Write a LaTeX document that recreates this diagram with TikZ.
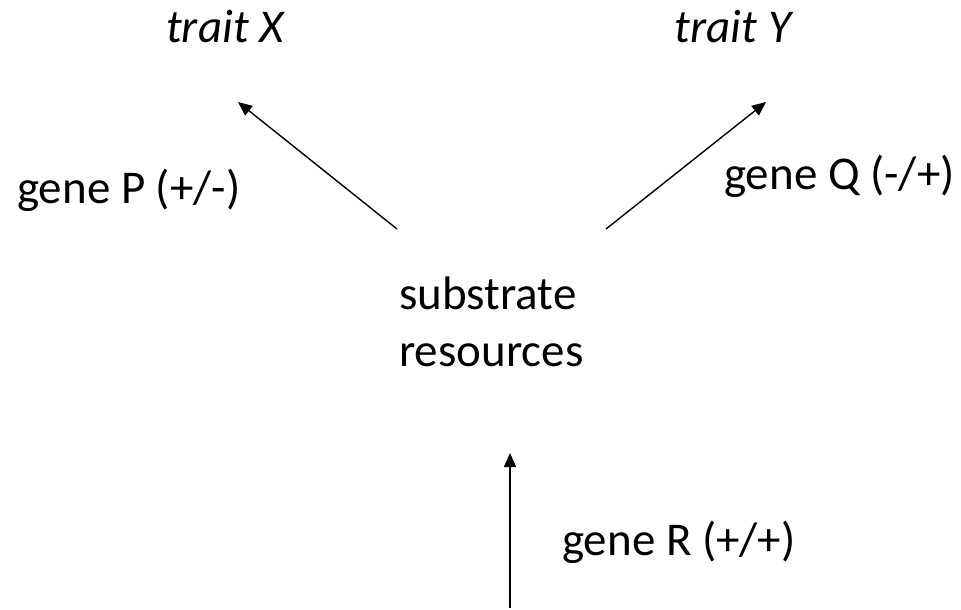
\documentclass[tikz,border=0pt]{standalone}
\usepackage{fontspec}
\setmainfont{Carlito}
\usetikzlibrary{arrows.meta}
\begin{document}
\begin{tikzpicture}[x=1pt,y=-1pt,
  lbl/.style={inner sep=0pt,font=\fontsize{47}{57}\selectfont},
  arr/.style={line width=1.4pt,-{Triangle[length=14pt,width=12pt]}}]
\useasboundingbox[fill=white] (0,0) rectangle (961,610);
\node[lbl,anchor=base,font=\fontsize{47}{57}\selectfont\itshape] (tx) at (225,43) {trait X};
\node[lbl,anchor=base,font=\fontsize{47}{57}\selectfont\itshape] (ty) at (733,43) {trait Y};
\node[lbl,anchor=base west] (gp) at (17,203) {gene P (+/-)};
\node[lbl,anchor=base west] (gq) at (724,189) {gene Q (-/+)};
\node[lbl,anchor=base west] (s1) at (399,309) {substrate};
\node[lbl,anchor=base west] (s2) at (399,366) {resources};
\node[lbl,anchor=base west] (gr) at (562,555) {gene R (+/+)};
\coordinate (a1t) at (397,229);
\coordinate (a1h) at (238,102);
\coordinate (a2t) at (606,229);
\coordinate (a2h) at (766,102);
\coordinate (a3t) at (510,608);
\coordinate (a3h) at (510,453);
\draw[arr] (a1t) -- (a1h);
\draw[arr] (a2t) -- (a2h);
\draw[arr] (a3t) -- (a3h);
\end{tikzpicture}
\end{document}
